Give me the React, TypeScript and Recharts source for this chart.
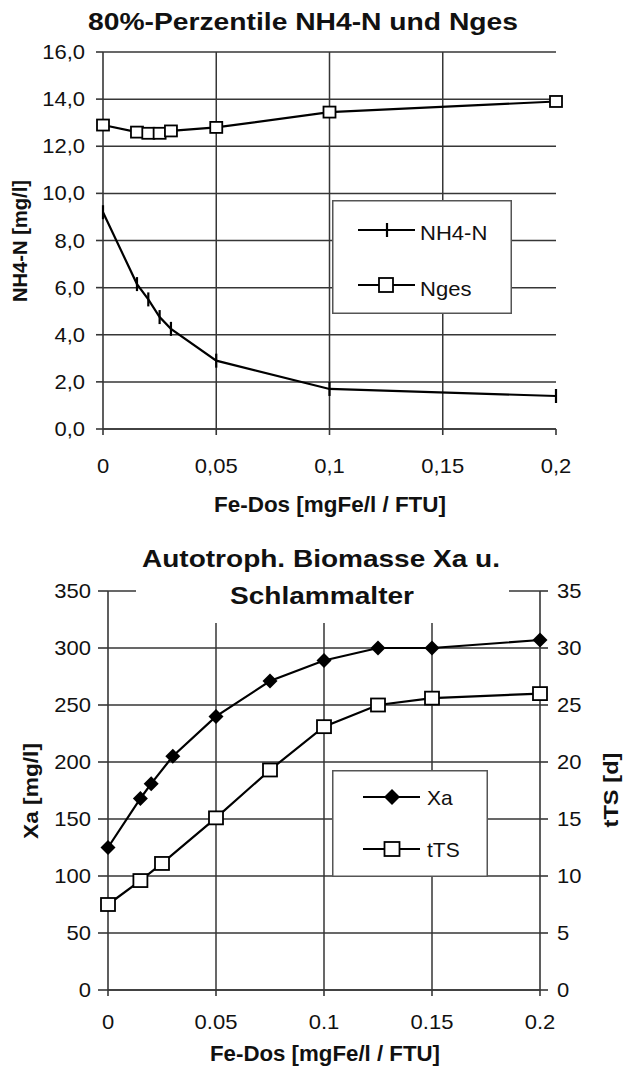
import React from "react";
import { LineChart, Line, XAxis, YAxis, CartesianGrid, ReferenceLine, Legend } from "recharts";

const FONT = "'Liberation Sans', Arial, Helvetica, sans-serif";
const INK = "#111";
const GRID = "#363636";

// chart 1: 80%-Perzentile NH4-N und Nges
const feDos = [0, 0.015, 0.02, 0.025, 0.03, 0.05, 0.1, 0.2];
const nh4n = [9.2, 6.15, 5.5, 4.75, 4.25, 2.9, 1.7, 1.4];
const nges = [12.9, 12.6, 12.55, 12.55, 12.65, 12.8, 13.45, 13.9];
const nTicks = [0, 2, 4, 6, 8, 10, 12, 14, 16];

// chart 2: Autotroph. Biomasse Xa u. Schlammalter
const feDosXa = [0, 0.015, 0.02, 0.03, 0.05, 0.075, 0.1, 0.125, 0.15, 0.2];
const xa = [125, 168, 181, 205, 240, 271, 289, 300, 300, 307];
const feDosTts = [0, 0.015, 0.025, 0.05, 0.075, 0.1, 0.125, 0.15, 0.2];
const tts = [7.5, 9.6, 11.1, 15.1, 19.3, 23.1, 25, 25.6, 26];
const xaTicks = [0, 50, 100, 150, 200, 250, 300, 350];
const ttsTicks = [0, 5, 10, 15, 20, 25, 30, 35];

const xTicks = [0, 0.05, 0.1, 0.15, 0.2];
const xGrid = [0.05, 0.1, 0.15];

const data1 = feDos.map((x, i) => ({ x, nh4n: nh4n[i], nges: nges[i] }));
const dataXa = feDosXa.map((x, i) => ({ x, y: xa[i] }));
const dataTts = feDosTts.map((x, i) => ({ x, y: tts[i] }));

const comma = (v: number, d?: number) =>
  (d === undefined ? String(v) : v.toFixed(d)).replace(".", ",");

const SX = 1.1;
const TICK_FS = 20;

const xTick = (baseline: number, fmt: (v: number) => string) => (p: any) => (
  <text
    transform={`translate(${p.x},${baseline}) scale(${SX},1)`}
    textAnchor="middle"
    fontFamily={FONT}
    fontSize={TICK_FS}
    fill={INK}
  >
    {fmt(p.payload.value)}
  </text>
);

const yTick = (xPos: number, anchor: string, fmt: (v: number) => string) => (p: any) => (
  <text
    transform={`translate(${xPos},${p.y + 7}) scale(${SX},1)`}
    textAnchor={anchor}
    fontFamily={FONT}
    fontSize={TICK_FS}
    fill={INK}
  >
    {fmt(p.payload.value)}
  </text>
);

const hLabel = (x: number, y: number, len: number, text: string) => () => (
  <text
    x={x}
    y={y}
    textAnchor="middle"
    fontFamily={FONT}
    fontSize={22}
    fontWeight="bold"
    fill={INK}
    textLength={len}
    lengthAdjust="spacingAndGlyphs"
  >
    {text}
  </text>
);

const vLabel = (x: number, y: number, len: number, text: string) => () => (
  <text
    transform={`translate(${x},${y}) rotate(-90)`}
    textAnchor="middle"
    fontFamily={FONT}
    fontSize={21}
    fontWeight="bold"
    fill={INK}
    textLength={len}
    lengthAdjust="spacingAndGlyphs"
  >
    {text}
  </text>
);

// markers
const tickMark = (cx: number, cy: number, h: number) => (
  <line x1={cx} y1={cy - h} x2={cx} y2={cy + h} stroke="#000" strokeWidth={2.2} />
);
const square = (cx: number, cy: number, w: number, h: number) => (
  <rect x={cx - w / 2} y={cy - h / 2} width={w} height={h} fill="#fff" stroke="#000" strokeWidth={1.8} />
);
const diamond = (cx: number, cy: number, r: number) => (
  <polygon points={`${cx},${cy - r} ${cx + r},${cy} ${cx},${cy + r} ${cx - r},${cy}`} fill="#000" />
);

const NhDot = (p: any) => <g key={`nh${p.index}`}>{tickMark(p.cx, p.cy, 7)}</g>;
const NgDot = (p: any) => <g key={`ng${p.index}`}>{square(p.cx, p.cy, 12, 11)}</g>;
const XaDot = (p: any) => <g key={`xa${p.index}`}>{diamond(p.cx, p.cy, 7.5)}</g>;
const TsDot = (p: any) => <g key={`ts${p.index}`}>{square(p.cx, p.cy, 14, 13)}</g>;

const legendText = (x: number, y: number, size: number, t: string) => (
  <text transform={`translate(${x},${y}) scale(1.05,1)`} fontFamily={FONT} fontSize={size} fill={INK}>
    {t}
  </text>
);

const Legend1 = () => (
  <svg width={180} height={114} style={{ display: "block" }}>
    <rect x={0.75} y={0.75} width={178.5} height={112.5} fill="#fff" stroke="#555" strokeWidth={1.5} />
    <line x1={26} y1={30} x2={83} y2={30} stroke="#000" strokeWidth={2} />
    {tickMark(55, 30, 7)}
    {legendText(88, 40, 21, "NH4-N")}
    <line x1={26} y1={85} x2={83} y2={85} stroke="#000" strokeWidth={2} />
    {square(54, 85, 14, 14)}
    {legendText(88, 96, 21, "Nges")}
  </svg>
);

const Legend2 = () => (
  <svg width={156} height={107} style={{ display: "block" }}>
    <rect x={0.75} y={0.75} width={154.5} height={105.5} fill="#fff" stroke="#555" strokeWidth={1.5} />
    <line x1={31} y1={27} x2={88} y2={27} stroke="#000" strokeWidth={2} />
    {diamond(60, 27, 8)}
    {legendText(95, 35, 20, "Xa")}
    <line x1={31} y1={79} x2={88} y2={79} stroke="#000" strokeWidth={2} />
    {square(60, 79, 15, 14)}
    {legendText(95, 87, 20, "tTS")}
  </svg>
);

const axisStroke = { stroke: GRID, strokeWidth: 1.6 };

export default function App() {
  return (
    <div style={{ position: "absolute", left: 0, top: 0, width: 628, height: 1066, background: "#fff" }}>
      <div style={{ position: "absolute", left: 0, top: 0 }}>
        <LineChart width={628} height={520} data={data1} margin={{ top: 52, right: 72, bottom: 51, left: 43 }}>
          <CartesianGrid vertical={false} stroke={GRID} strokeWidth={1.5} />
          {xGrid.map((v) => (
            <ReferenceLine key={v} x={v} stroke={GRID} strokeWidth={1.5} />
          ))}
          <XAxis
            dataKey="x"
            type="number"
            domain={[0, 0.2]}
            ticks={xTicks}
            height={40}
            tickSize={6}
            axisLine={axisStroke}
            tickLine={axisStroke}
            tick={xTick(473, (v) => comma(v))}
            label={hLabel(330, 512, 232, "Fe-Dos [mgFe/l / FTU]")}
          />
          <YAxis
            type="number"
            domain={[0, 16]}
            ticks={nTicks}
            width={60}
            tickSize={7}
            axisLine={axisStroke}
            tickLine={axisStroke}
            tick={yTick(85, "end", (v) => comma(v, 1))}
            label={vLabel(27, 241, 122, "NH4-N [mg/l]")}
          />
          <Line
            dataKey="nh4n"
            type="linear"
            stroke="#000"
            strokeWidth={2.2}
            dot={NhDot}
            activeDot={false}
            isAnimationActive={false}
          />
          <Line
            dataKey="nges"
            type="linear"
            stroke="#000"
            strokeWidth={2.2}
            dot={NgDot}
            activeDot={false}
            isAnimationActive={false}
          />
          <Legend
            layout="vertical"
            align="center"
            verticalAlign="middle"
            wrapperStyle={{ left: 332, top: 200, width: 180, height: 114 }}
            content={() => <Legend1 />}
          />
        </LineChart>
      </div>
      <svg style={{ position: "absolute", left: 0, top: 0 }} width={628} height={40}>
        <text
          x={303}
          y={30}
          textAnchor="middle"
          fontFamily={FONT}
          fontSize={23}
          fontWeight="bold"
          fill={INK}
          textLength={430}
          lengthAdjust="spacingAndGlyphs"
        >
          80%-Perzentile NH4-N und Nges
        </text>
      </svg>

      <div style={{ position: "absolute", left: 0, top: 520 }}>
        <LineChart width={628} height={546} margin={{ top: 71, right: 28, bottom: 36, left: 48 }}>
          <CartesianGrid vertical={false} yAxisId="left" stroke={GRID} strokeWidth={1.5} />
          {xGrid.map((v) => (
            <ReferenceLine key={v} x={v} yAxisId="left" stroke={GRID} strokeWidth={1.5} />
          ))}
          <XAxis
            dataKey="x"
            type="number"
            domain={[0, 0.2]}
            ticks={xTicks}
            height={40}
            tickSize={6}
            axisLine={axisStroke}
            tickLine={axisStroke}
            tick={xTick(509, (v) => String(v))}
            label={hLabel(325, 541, 230, "Fe-Dos [mgFe/l / FTU]")}
          />
          <YAxis
            yAxisId="left"
            type="number"
            domain={[0, 350]}
            ticks={xaTicks}
            width={60}
            tickSize={10}
            axisLine={axisStroke}
            tickLine={axisStroke}
            tick={yTick(91, "end", (v) => String(v))}
            label={vLabel(38, 271, 96, "Xa [mg/l]")}
          />
          <YAxis
            yAxisId="right"
            orientation="right"
            type="number"
            domain={[0, 35]}
            ticks={ttsTicks}
            width={60}
            tickSize={8}
            axisLine={axisStroke}
            tickLine={axisStroke}
            tick={yTick(557, "start", (v) => String(v))}
            label={vLabel(618, 270, 75, "tTS [d]")}
          />
          <Line
            data={dataXa}
            yAxisId="left"
            dataKey="y"
            type="linear"
            stroke="#000"
            strokeWidth={2.2}
            dot={XaDot}
            activeDot={false}
            isAnimationActive={false}
          />
          <Line
            data={dataTts}
            yAxisId="right"
            dataKey="y"
            type="linear"
            stroke="#000"
            strokeWidth={2.2}
            dot={TsDot}
            activeDot={false}
            isAnimationActive={false}
          />
          <Legend
            layout="vertical"
            align="center"
            verticalAlign="middle"
            wrapperStyle={{ left: 332, top: 250, width: 156, height: 107 }}
            content={() => <Legend2 />}
          />
        </LineChart>
      </div>
      <svg style={{ position: "absolute", left: 136, top: 536 }} width={373} height={87}>
        <rect x={0} y={0} width={373} height={87} fill="#fff" />
        <text
          x={185}
          y={31}
          textAnchor="middle"
          fontFamily={FONT}
          fontSize={24}
          fontWeight="bold"
          fill={INK}
          textLength={358}
          lengthAdjust="spacingAndGlyphs"
        >
          Autotroph. Biomasse Xa u.
        </text>
        <text
          x={186}
          y={68}
          textAnchor="middle"
          fontFamily={FONT}
          fontSize={24}
          fontWeight="bold"
          fill={INK}
          textLength={184}
          lengthAdjust="spacingAndGlyphs"
        >
          Schlammalter
        </text>
      </svg>
    </div>
  );
}
